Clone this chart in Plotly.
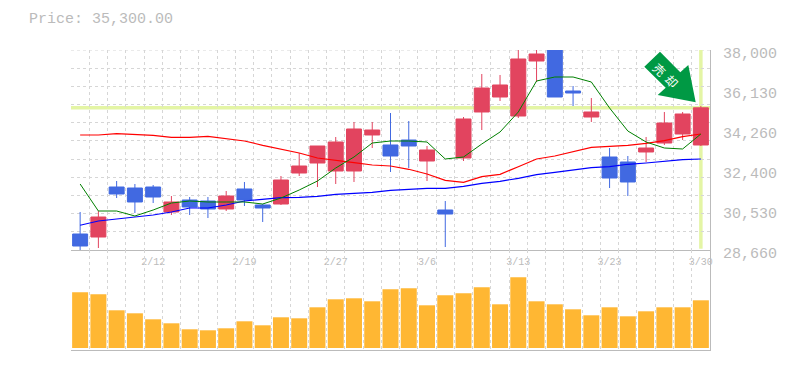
import plotly.graph_objects as go

sessions = list(range(35))
open_ = [29407,29267,31602,31555,31602,30435,30995,30948,30575,31509,30761,30808,32256,32723,32349,32349,34031,33564,33797,32816,30528,32956,35105,35805,34918,37486,38400,36085,34871,33003,32770,33237,33657,34077,33564]
high = [30435,30481,31882,31742,31695,31182,31135,31135,31415,31836,30808,32116,33190,33517,33937,34638,34638,35058,34684,33517,30948,34871,36879,36833,38100,38050,38600,36319,35758,33423,33050,33937,35105,35105,35385]
low = [28613,28753,31088,30388,30855,30295,30295,30154,30481,30715,29968,30761,32116,31602,31742,31836,33423,32303,32489,31882,28800,32816,34264,35618,34824,36506,35805,35385,34638,31555,31182,32770,33564,33797,33517]
close = [28847,30201,31275,30902,31135,30902,30668,30575,31182,30995,30621,31929,32583,33517,33704,34311,34264,33050,33517,33330,30341,34778,36225,36366,37580,37813,35805,35992,35105,32022,31836,33423,34591,35011,35300]
ma_green = [31742,30481,30481,30248,30528,30855,30948,30902,30902,30902,30808,31088,31462,31882,32489,33003,33657,33750,33750,33704,32910,33003,33610,34171,35105,36552,36739,36739,36506,35291,34217,33704,33423,33377,34077]
ma_red = [34031,34031,34091,34063,34017,33923,33923,33970,33876,33750,33550,33363,33190,32956,32830,32737,32630,32583,32429,32209,31915,31822,32083,32195,32550,32910,33050,33251,33456,33503,33550,33643,33764,33951,34077]
ma_blue = [29814,30014,30108,30201,30295,30435,30621,30621,30761,30948,31009,31103,31121,31168,31261,31308,31355,31448,31495,31541,31541,31635,31775,31868,32009,32177,32289,32396,32503,32550,32663,32723,32816,32877,32910]
volume = [55700,53700,37700,34700,28700,24700,18700,17700,19700,26700,22700,30700,29700,40700,48700,49700,46700,58700,59700,42700,52700,54700,60700,43700,70700,46700,43700,38700,32700,40700,31700,36700,40700,40700,47700]
date_positions = [4,9,14,19,24,29,34]
date_labels = ["2/12","2/19","2/27","3/6","3/13","3/23","3/30"]
price_ticks = [38000,36130,34260,32400,30530,28660]
price_labels = ["38,000","36,130","34,260","32,400","30,530","28,660"]
price_min, price_max = 28660, 38000
last_price = 35300
title_text = "Price: 35,300.00"

RED, BLUE, GOLD = "#e2445f", "#4169e1", "#ffb733"
GRID, AXIS, TEXT = "#d6d6d6", "#bbbbbb", "#bbbbbb"
HILITE, ARROW = "#e4f5a5", "#009944"
PAGE = 8  # the page's own body margin
W, H = 777, 362
L, R, T, B = 63, 75, 42, 20
px = lambda v: (v - PAGE - L) / (W - L - R)
py = lambda v: (H - B - (v - PAGE)) / (H - T - B)

fig = go.Figure()
fig.add_trace(go.Candlestick(
    x=sessions, open=open_, high=high, low=low, close=close, xaxis="x", yaxis="y",
    increasing=dict(line=dict(color=RED, width=1), fillcolor=RED),
    decreasing=dict(line=dict(color=BLUE, width=1), fillcolor=BLUE),
    whiskerwidth=0, showlegend=False))
for vals, col, w in ((ma_blue, "#0000ff", 1.2), (ma_red, "#ff0000", 1.2), (ma_green, "#008000", 1)):
    fig.add_trace(go.Scatter(x=sessions, y=vals, mode="lines", xaxis="x", yaxis="y",
                             line=dict(color=col, width=w), showlegend=False))
fig.add_trace(go.Bar(x=sessions, y=volume, xaxis="x2", yaxis="y2", width=0.876,
                     marker=dict(color=GOLD, line_width=0), showlegend=False))

vgrid = dict(tick0=-0.5, dtick=1, showgrid=True, gridcolor=GRID, griddash="3px,3px", gridwidth=1, ticks="")
fig.update_layout(
    width=W, height=H, margin=dict(l=L, r=R, t=T, b=B, autoexpand=False),
    paper_bgcolor="white", plot_bgcolor="white", boxgap=0.18, boxgroupgap=0, bargap=0.12,
    title=dict(text=title_text, x=(29 - PAGE) / W, xanchor="left", xref="container",
               y=1 - (18 - PAGE) / H, yanchor="middle", yref="container",
               font=dict(family="Liberation Mono", size=15, color=TEXT)),
    xaxis=dict(domain=[0, 1], range=[-0.5, 34.5], anchor="y", tickmode="array",
               tickvals=date_positions, ticktext=date_labels, showgrid=False, zeroline=False,
               rangeslider=dict(visible=False), showline=True, linecolor=AXIS, linewidth=1,
               ticks="", ticklabelstandoff=2, minor=vgrid, layer="below traces",
               tickfont=dict(family="Liberation Mono", size=10, color=TEXT)),
    yaxis=dict(domain=[1 / 3, 1], range=[price_min, price_max], side="right", anchor="x",
               tickmode="array", tickvals=price_ticks, ticktext=price_labels, showgrid=False,
               zeroline=False, showline=True, linecolor=AXIS, linewidth=1, ticks="",
               ticklabelstandoff=9, ticklabelshift=3,
               minor=dict(tick0=price_min, dtick=(price_max - price_min) / 11, showgrid=True,
                          gridcolor=GRID, griddash="3px,3px", gridwidth=1, ticks=""),
               tickfont=dict(family="Liberation Mono", size=15, color=TEXT)),
    xaxis2=dict(domain=[0, 1], range=[-0.5, 34.5], anchor="y2", showticklabels=False,
                showgrid=False, zeroline=False, showline=True, linecolor=AXIS, linewidth=1,
                ticks="", minor=vgrid),
    yaxis2=dict(domain=[0, 1 / 3], range=[-2000, 98000], side="right", anchor="x2",
                showticklabels=False, showgrid=False, zeroline=False, showline=True,
                linecolor=AXIS, linewidth=1, ticks=""),
)

fig.add_shape(type="line", xref="x", yref="y", x0=-0.5, x1=34.5, y0=price_max, y1=price_max,
              line=dict(color=GRID, width=1, dash="3px,3px"), layer="below")
fig.add_shape(type="line", xref="x", yref="y", x0=-0.5, x1=34.5, y0=last_price, y1=last_price,
              line=dict(color=HILITE, width=3.5), layer="below")
fig.add_shape(type="line", xref="x", yref="y", x0=34, x1=34, y0=price_min + 60, y1=price_max,
              line=dict(color=HILITE, width=3.5), layer="below")

arrow_px = [(660, 51.7), (644.3, 66.7), (665.7, 87.7), (657.7, 95), (695.7, 102.3), (688.3, 65), (680.3, 72.3)]
path = "M " + " L ".join(f"{px(a):.5f},{py(b):.5f}" for a, b in arrow_px) + " Z"
fig.add_shape(type="path", xref="paper", yref="paper", path=path, fillcolor=ARROW, line_width=0, layer="above")
for ch, (a, b) in zip("売却", ((660, 69.3), (671.7, 80.7))):
    fig.add_annotation(xref="paper", yref="paper", x=px(a), y=py(b), text=ch, showarrow=False, textangle=45,
                       xanchor="center", yanchor="middle",
                       font=dict(family="Noto Sans CJK JP", size=12, color="white"))

fig.write_html("out.html")
